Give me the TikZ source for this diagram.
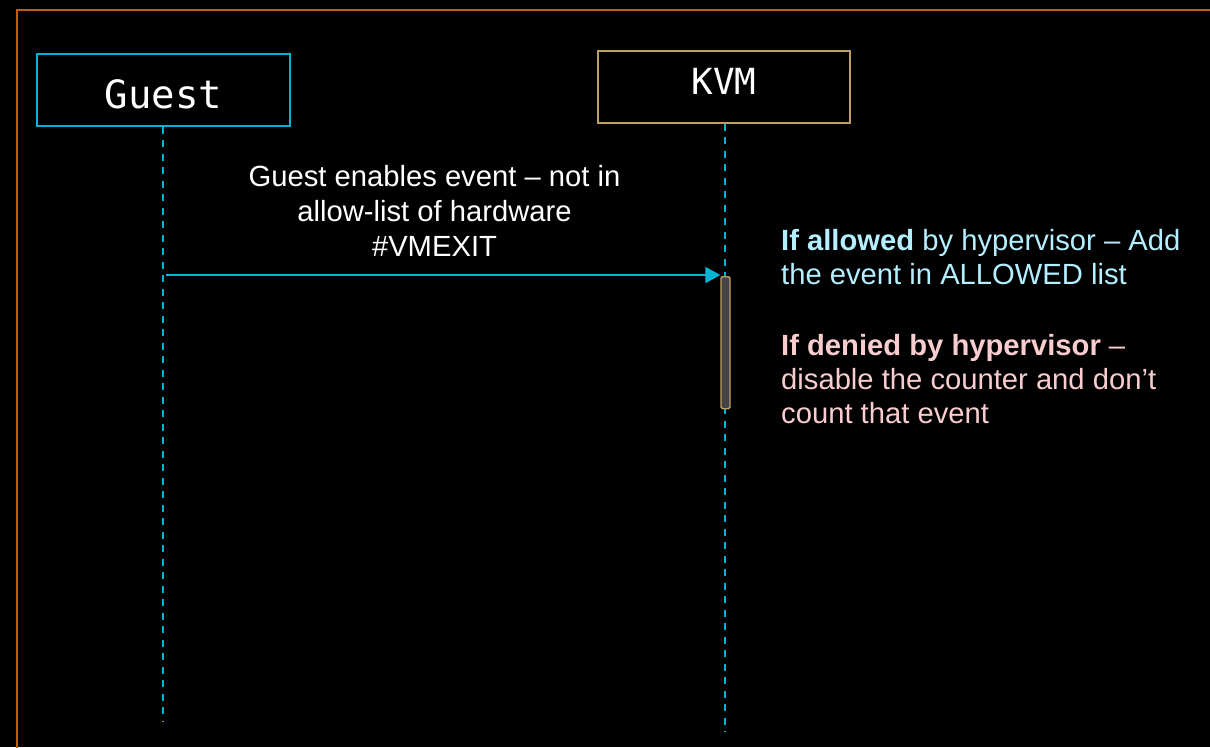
\documentclass[tikz,border=0pt]{standalone}
\usepackage{fontspec}
\setmainfont{Liberation Sans}
\newfontfamily\monofam{DejaVu Sans Mono}
\usetikzlibrary{arrows.meta}

\definecolor{frameorange}{HTML}{C55A11}
\definecolor{lifecyan}{HTML}{00B4D6}
\definecolor{kvmtan}{HTML}{BFA062}
\definecolor{actgray}{HTML}{444444}
\definecolor{okcyan}{HTML}{B4EFFF}
\definecolor{denypink}{HTML}{F9CDCD}

\tikzset{
  actor/.style={draw, line width=1.6pt, fill=black, inner sep=0pt,
    minimum width=253pt, minimum height=72pt, text=white},
  lifeline/.style={lifecyan, line width=1.6pt, dash pattern=on 7pt off 6.5pt},
  msg/.style={lifecyan, line width=1.8pt, -{Triangle[length=15pt,width=16pt]}},
  bodytext/.style={text=white, inner sep=0pt, font=\fontsize{29.2}{35}\selectfont},
  notetext/.style={bodytext, align=left, anchor=base west,
    font=\fontsize{29.2}{33.7}\selectfont},
}

\begin{document}
\begin{tikzpicture}[x=1pt, y=-1pt]
  % canvas
  \fill[black] (0,0) rectangle (1210,747);
  \useasboundingbox (0,0) rectangle (1210,747);
  \draw[frameorange, line width=1.8pt] (17,760) -- (17,10) -- (1225,10);

  % participants
  \node[actor, draw=lifecyan, font=\monofam\fontsize{39}{40}\selectfont,
    text height=36pt, text depth=0pt]
    (guest) at (163.5,90) {Guest};
  \node[actor, draw=kvmtan, minimum width=252pt, font=\monofam\fontsize{36}{38}\selectfont,
    text height=24pt, text depth=10pt]
    (kvm) at (724,87) {KVM};

  % lifeline ends
  \coordinate (guestend) at (163,722);
  \coordinate (kvmend) at (725,732);
  \draw[lifeline] (guest.south -| guestend) -- (guestend);
  \draw[lifeline] (kvm.south -| kvmend) -- (kvmend);

  % activation bar on KVM
  \node[draw=kvmtan, fill=actgray, line width=1.3pt, rounded corners=1.5pt,
    minimum width=9pt, minimum height=132pt, inner sep=0pt, anchor=north]
    (act) at (725.5,276) {};

  % message
  \coordinate (msgstart) at (166,275);
  \draw[msg] (msgstart) -- (act.north west |- msgstart);
  \node[bodytext, align=center, anchor=base] (msglabel) at (434.5,256)
    {Guest enables event – not in\\allow-list of hardware\\\#VMEXIT};

  % hypervisor decisions
  \node[notetext, text=okcyan] (allowed) at (781,284)
    {\textbf{If allowed} by hypervisor – Add\\the event in ALLOWED list};
  \node[notetext, text=denypink] (denied) at (781,423)
    {\textbf{If denied by hypervisor} –\\disable the counter and don’t\\count that event};
\end{tikzpicture}
\end{document}
